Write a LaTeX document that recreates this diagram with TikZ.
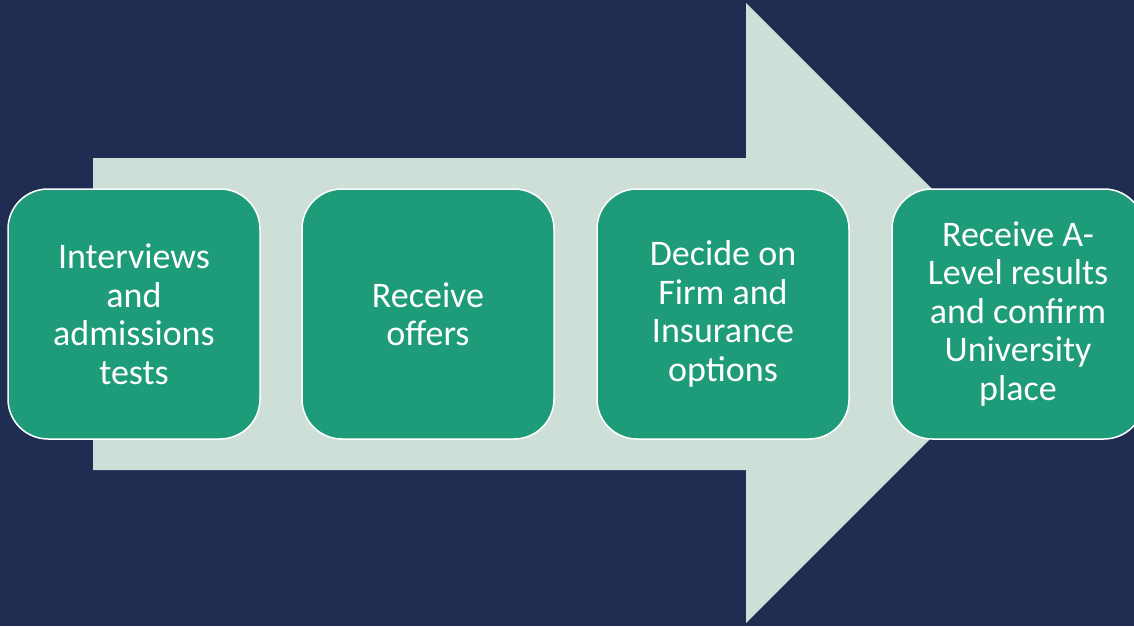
\documentclass[tikz,border=0pt]{standalone}
\usepackage{fontspec}
\setmainfont{Carlito}
\definecolor{navy}{HTML}{1F2D52}
\definecolor{pale}{HTML}{CEDFD7}
\definecolor{teal}{HTML}{1E9B78}
\tikzset{
  stepbox/.style={draw=white, line width=1.5pt, fill=teal, rounded corners=40pt,
    minimum width=252pt, minimum height=250pt, text=white, align=center,
    font=\fontsize{36}{38.5}\selectfont, inner sep=0pt}
}
\begin{document}
\begin{tikzpicture}[x=1pt,y=-1pt]
\useasboundingbox (0,0) rectangle (1134,626);
\fill[navy] (0,0) rectangle (1134,626);
\fill[pale] (93,158) -- (746,158) -- (746,3) -- (1056,313) -- (746,623) -- (746,470) -- (93,470) -- cycle;
\node[stepbox] (s1) at (134,314) {Interviews\\and\\admissions\\tests};
\node[stepbox] (s2) at (428,314) {Receive\\offers};
\node[stepbox] (s3) at (723,314) {Decide on\\Firm and\\Insurance\\options};
\node[stepbox] (s4) at (1018,314) {Receive A-\\Level results\\and confirm\\University\\place};
\end{tikzpicture}
\end{document}
